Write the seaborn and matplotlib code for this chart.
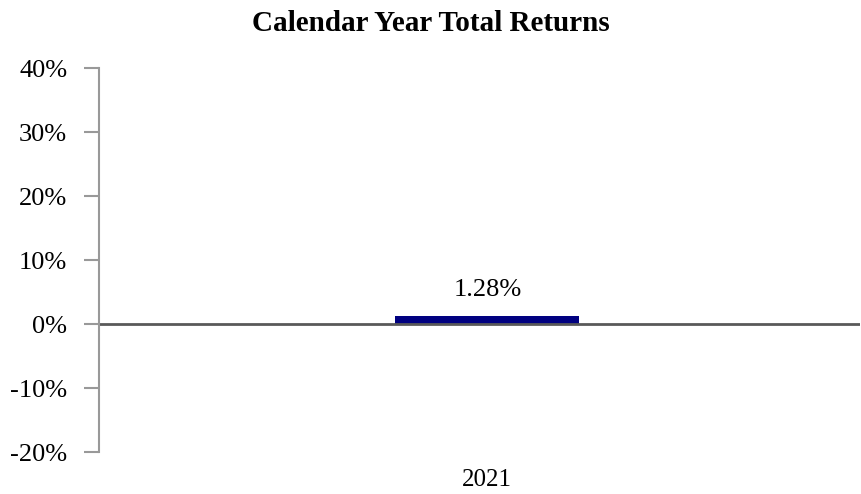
import matplotlib
matplotlib.use("Agg")
import matplotlib.pyplot as plt
import seaborn as sns
import pandas as pd

# data
years = ["2021"]
returns = [1.28]
y_ticks = [-20, -10, 0, 10, 20, 30, 40]

df = pd.DataFrame({"year": years, "ret": returns})

sns.set_style("white")
plt.rcParams["font.family"] = ["Liberation Serif", "DejaVu Serif"]
plt.rcParams["text.color"] = "black"
plt.rcParams["xtick.color"] = "black"
plt.rcParams["ytick.color"] = "black"

fig = plt.figure(figsize=(8.62, 4.94), dpi=100)
ax = fig.add_axes([0.115, 0.085, 0.883, 0.777])

sns.barplot(data=df, x="year", y="ret", color="#000080", width=0.242, ax=ax,
            saturation=1, edgecolor="none")

ax.set_xlim(-0.51, 0.49)
ax.set_ylim(-20, 40)
ax.set_yticks(y_ticks)
ax.set_yticklabels([f"{t}%" for t in y_ticks], fontsize=19)
ax.tick_params(axis="y", left=True, direction="out", length=11, width=1.5,
               color="#999999", labelcolor="black", pad=12)
ax.tick_params(axis="x", bottom=False, length=0, labelsize=18, labelcolor="black", pad=12)
ax.axhline(0, color="#595959", lw=2, zorder=1)

for s in ["top", "right", "bottom"]:
    ax.spines[s].set_visible(False)
ax.spines["left"].set_color("#999999")
ax.spines["left"].set_linewidth(1.5)
ax.set_xlabel("")
ax.set_ylabel("")

for i, v in enumerate(returns):
    ax.text(i, v + 4, f"{v:.2f}%", ha="center", va="center", fontsize=19, color="black")

fig.suptitle("Calendar Year Total Returns", fontsize=21, fontweight="bold", y=0.98,
             color="black")

fig.savefig("out.png", dpi=100)
